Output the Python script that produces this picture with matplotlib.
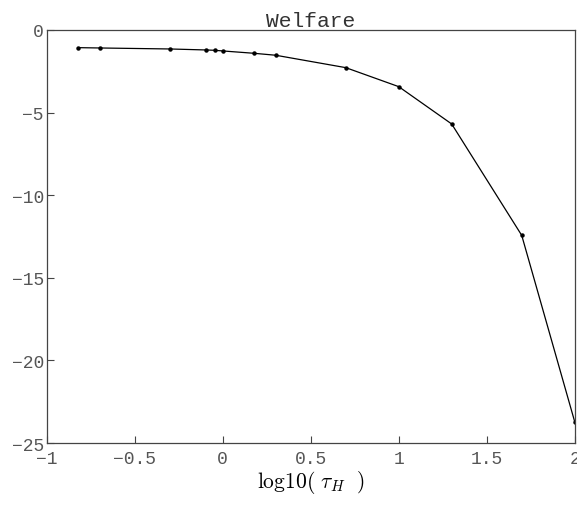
import numpy as np
import matplotlib
matplotlib.use("Agg")
import matplotlib.pyplot as plt

## Data
tau_h   = [0.15, 0.2, 0.5, 0.8, 0.9, 1, 1.5, 2, 5, 10, 20, 50, 100]
welfare = [-1.07, -1.09, -1.15, -1.21, -1.23, -1.27, -1.41, -1.53,
           -2.28, -3.43, -5.69, -12.43, -23.71]
x_ticks = [-1, -0.5, 0, 0.5, 1, 1.5, 2]
y_ticks = [-25, -20, -15, -10, -5, 0]

plt.rcParams['mathtext.fontset'] = 'cm'
mono = 'Liberation Mono'
grey = '#555555'

fig = plt.figure(figsize=(5.77, 5.06), dpi=100)
ax = fig.add_axes([0.081, 0.1225, 0.915, 0.8163])

ax.plot(np.log10(tau_h), welfare, color='black', linewidth=0.9,
        marker='o', markersize=2.2)

ax.set_xlim(-1, 2)
ax.set_ylim(-25, 0)
ax.set_xticks(x_ticks)
ax.set_yticks(y_ticks)
ax.set_xticklabels(['\u22121', '\u22120.5', '0', '0.5', '1', '1.5', '2'])
ax.set_yticklabels(['\u221225', '\u221220', '\u221215', '\u221210', '\u22125', '0'])
ax.tick_params(direction='in', length=5, width=0.8, color='#444444',
               labelcolor=grey, labelsize=13, pad=2)
for lab in ax.get_xticklabels() + ax.get_yticklabels():
    lab.set_family(mono)
for sp in ax.spines.values():
    sp.set_color('#444444')
    sp.set_linewidth(0.9)
ax.tick_params(axis='x', pad=5)

ax.set_title('Welfare', fontfamily=mono, fontsize=15.3, color='#333333', pad=3)
ax.set_xlabel(r'$\mathrm{log10(}\ \tau_H\ \ \mathrm{)}$', fontsize=15.5, labelpad=1)

fig.savefig('out.png', dpi=100)
